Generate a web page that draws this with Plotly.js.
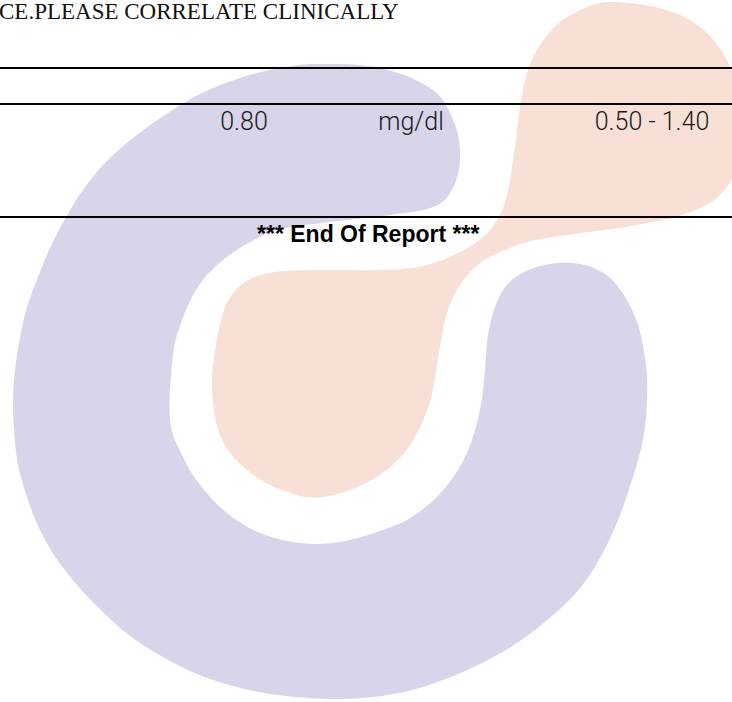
<!DOCTYPE html>
<html>
<head>
<meta charset="utf-8">
<script src="https://cdn.plot.ly/plotly-3.0.1.min.js"></script>
<style>html,body{margin:0;padding:0;background:#fff;}#chart{width:732px;height:702px;}</style>
</head>
<body>
<div id="chart"></div>
<script>
// ---- report content ----
const headerNote = "CE.PLEASE CORRELATE CLINICALLY";
const resultValues = ["0.80"];
const resultUnits = ["mg/dl"];
const referenceRanges = ["0.50 - 1.40"];
const footerNote = "*** End Of Report ***";

// ---- decorative watermark outlines (page pixel space) ----
const purpleOutline = [[317,64],[380,68],[433,90],[455,125],[460,160],[452,190],[433,207],[390,215],[330,222],[278,230],[243,246],[214,268],[196,290],[182,320],[173,355],[170,420],[182,455],[200,485],[227,513],[260,533],[300,543],[340,542],[383,530],[415,515],[445,488],[467,453],[480,410],[485,370],[488,335],[497,302],[512,280],[540,266],[573,263],[602,272],[622,292],[638,325],[646,365],[647,400],[643,440],[632,480],[616,525],[596,565],[574,595],[545,622],[514,645],[480,664],[443,680],[408,691],[373,697],[340,699],[308,698],[270,694],[233,686],[197,674],[163,657],[130,636],[103,612],[78,586],[56,558],[40,530],[28,500],[18,465],[14,430],[13,400],[15,370],[20,338],[27,307],[38,277],[50,248],[65,219],[83,190],[105,163],[133,138],[165,115],[200,94],[240,78],[280,68]];
const peachOutline = [[607,2],[645,5],[680,15],[707,33],[727,60],[736,90],[738,140],[734,170],[727,187],[708,204],[675,217],[625,227],[575,234],[535,240],[505,250],[480,263],[460,285],[447,313],[439,353],[429,405],[405,452],[368,482],[323,497],[290,493],[252,474],[222,440],[212,390],[216,345],[226,305],[245,282],[275,272],[320,270],[380,270],[418,267],[452,256],[482,238],[500,215],[508,190],[513,160],[517,130],[521,100],[528,70],[540,45],[560,22],[585,8]];

function smoothClosedPath(pts) {
  const n = pts.length;
  let d = "M " + pts[0][0] + "," + pts[0][1];
  for (let i = 0; i < n; i++) {
    const p0 = pts[(i - 1 + n) % n], p1 = pts[i], p2 = pts[(i + 1) % n], p3 = pts[(i + 2) % n];
    const c1x = p1[0] + (p2[0] - p0[0]) / 6, c1y = p1[1] + (p2[1] - p0[1]) / 6;
    const c2x = p2[0] - (p3[0] - p1[0]) / 6, c2y = p2[1] - (p3[1] - p1[1]) / 6;
    d += " C " + c1x.toFixed(1) + "," + c1y.toFixed(1) + " " + c2x.toFixed(1) + "," + c2y.toFixed(1) + " " + p2[0] + "," + p2[1];
  }
  return d + " Z";
}

const shapes = [
  {type: "path", path: smoothClosedPath(peachOutline), xref: "x", yref: "y", fillcolor: "#f9e0d6", line: {width: 0}, layer: "below"},
  {type: "path", path: smoothClosedPath(purpleOutline), xref: "x", yref: "y", fillcolor: "#d8d4ea", line: {width: 0}, layer: "below"},
  {type: "line", xref: "paper", x0: 0, x1: 1, yref: "y", y0: 68, y1: 68, line: {color: "#000", width: 2.2}},
  {type: "line", xref: "paper", x0: 0, x1: 1, yref: "y", y0: 104, y1: 104, line: {color: "#000", width: 2.2}},
  {type: "line", xref: "paper", x0: 0, x1: 1, yref: "y", y0: 217, y1: 217, line: {color: "#000", width: 2.2}}
];

const rowFont = {family: "Roboto, Liberation Sans, sans-serif", size: 25, weight: 300, color: "#1a1a1a"};

const traces = [
  {type: "scatter", mode: "text", x: [244], y: [124], text: resultValues, textfont: rowFont, textposition: "middle center", hoverinfo: "skip", showlegend: false},
  {type: "scatter", mode: "text", x: [411], y: [124], text: resultUnits, textfont: rowFont, textposition: "middle center", hoverinfo: "skip", showlegend: false},
  {type: "scatter", mode: "text", x: [652], y: [124], text: referenceRanges, textfont: rowFont, textposition: "middle center", hoverinfo: "skip", showlegend: false}
];

const layout = {
  width: 732, height: 702,
  margin: {l: 0, r: 0, t: 0, b: 0, pad: 0},
  paper_bgcolor: "#ffffff", plot_bgcolor: "#ffffff",
  xaxis: {range: [0, 732], visible: false, fixedrange: true},
  yaxis: {range: [702, 0], visible: false, fixedrange: true},
  shapes: shapes,
  annotations: [
    {xref: "paper", yref: "y", x: -0.004, y: 11, xanchor: "left", yanchor: "middle", text: headerNote, showarrow: false,
     font: {family: "Liberation Serif, Times New Roman, serif", size: 23, color: "#111"}},
    {xref: "x", yref: "y", x: 368, y: 234, xanchor: "center", yanchor: "middle", text: "<b>" + footerNote + "</b>", showarrow: false,
     font: {family: "Liberation Sans, sans-serif", size: 23, color: "#000"}}
  ],
  showlegend: false
};

Plotly.newPlot("chart", traces, layout, {displayModeBar: false, staticPlot: true});
</script>
</body>
</html>
